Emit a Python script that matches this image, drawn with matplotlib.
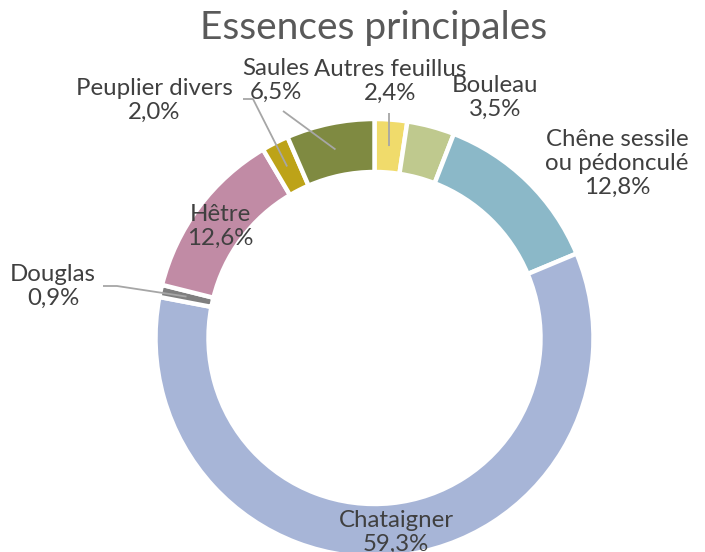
import numpy as np
import matplotlib
matplotlib.use("Agg")
import matplotlib.pyplot as plt

# ---- data ----
categories = ["Autres feuillus", "Bouleau", "Chêne sessile\nou pédonculé", "Chataigner",
              "Douglas", "Hêtre", "Peuplier divers", "Saules"]
values = [2.4, 3.5, 12.8, 59.3, 0.9, 12.6, 2.0, 6.5]
value_labels = ["2,4%", "3,5%", "12,8%", "59,3%", "0,9%", "12,6%", "2,0%", "6,5%"]
title = "Essences principales"

# ---- style ----
colors = ["#F0DB6B", "#BFC98E", "#8BB8C8", "#A7B5D7", "#7F7F7F", "#C18BA5", "#BDA318", "#7F8A41"]
W, H = 705, 552
cx, cy = 374.5, 338.0       # pixel coords (y down)
R_out, ring = 219.0, 53.0

# label centres in pixel coords (y down)
label_pos = [(390, 81), (495, 97), (617, 163), (396, 532), (53, 286), (220, 226), (154, 100), (276, 80)]
leader_start = {0: (389, 113), 4: [(103, 286), (117, 286)], 6: [(243, 99), (253, 99)], 7: (283, 111)}

plt.rcParams['font.family'] = ['Lato', 'DejaVu Sans']
fig = plt.figure(figsize=(W / 100, H / 100), dpi=100)
ax = fig.add_axes([0, 0, 1, 1])
ax.set_xlim(0, W)
ax.set_ylim(0, H)
ax.set_aspect('equal')
ax.axis('off')

def fy(y):
    return H - y

wedges, _ = ax.pie(values, colors=colors, startangle=90, counterclock=False,
                   radius=R_out, center=(cx, fy(cy)),
                   wedgeprops=dict(width=ring, edgecolor='white', linewidth=3.2))
ax.set_xlim(0, W)
ax.set_ylim(0, H)

# labels
for i, (lab, vl) in enumerate(zip(categories, value_labels)):
    x, y = label_pos[i]
    ax.text(x, fy(y), f"{lab}\n{vl}", ha='center', va='center', fontsize=17.3,
            color='#404040', linespacing=1.17, zorder=5)

# leader lines to the mid-ring point of each small wedge
mid_r = R_out - ring / 2
for i, start in leader_start.items():
    w = wedges[i]
    ang = np.deg2rad((w.theta1 + w.theta2) / 2)
    ex = cx + mid_r * np.cos(ang)
    ey = fy(cy) + mid_r * np.sin(ang)
    pts = start if isinstance(start, list) else [start]
    xs = [p[0] for p in pts] + [ex]
    ys = [fy(p[1]) for p in pts] + [ey]
    ax.plot(xs, ys, color='#A6A6A6', lw=1.3, zorder=4, solid_capstyle='butt')

fig.text(374 / W, 1 - 28 / H, title, ha='center', va='center', fontsize=28, color='#595959')

fig.savefig("out.png", dpi=100)
